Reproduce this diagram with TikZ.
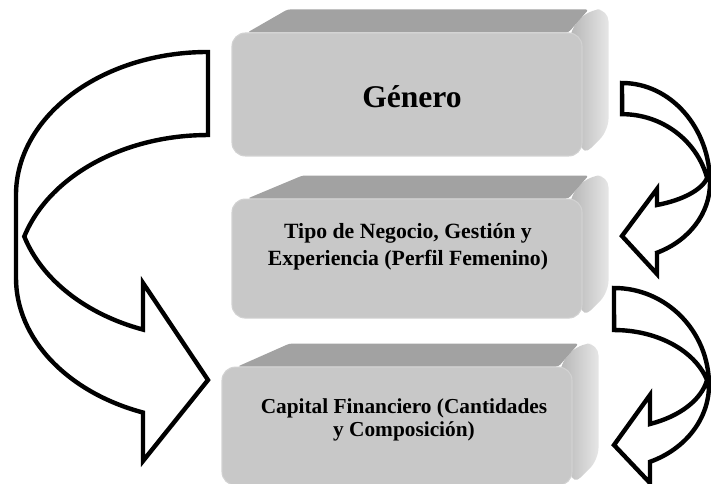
\documentclass[tikz,border=0pt]{standalone}
\usepackage{fontspec}
\setmainfont{Liberation Serif}
\usetikzlibrary{positioning, calc, backgrounds}
\definecolor{facegray}{HTML}{C8C8C8}
\definecolor{topgray}{HTML}{A2A2A2}
\definecolor{sidegray}{HTML}{E6E6E6}
\definecolor{sidedark}{HTML}{B4B4B4}
\definecolor{rimgray}{HTML}{D2D2D2}

\begin{document}
\begin{tikzpicture}[x=0.75pt, y=0.75pt,
    stage/.style={rectangle, rounded corners=10pt, fill=facegray, draw=rimgray, line width=0.8pt,
      minimum width=262.5pt, inner sep=0pt},
    caption/.style={align=center, inner sep=0pt},
    bigarrow/.style={draw=black, fill=white, line width=3.3pt}]

    \useasboundingbox (0,0) rectangle (711,484);

    % front faces
    \node (b1) [stage, minimum height=92.25pt] at (407,389.5) {};
    \node (b2) [stage, minimum height=89.25pt, below=31.5pt of b1] {};
    \node (b3) [stage, minimum height=88.5pt, below=36pt of b2, xshift=-7.5pt] {};

    % top and side faces behind
    \begin{scope}[on background layer]
      \foreach \bx/\sk in {b1/56, b2/71, b3/68} {
        \shade [left color=sidedark, right color=sidegray, rounded corners=9pt]
          ($(\bx.north east)+(-14,0)$) -- ($(\bx.north east)+(6,23)$) -- ($(\bx.north east)+(26,23)$)
          -- ($(\bx.south east)+(26,26)$) -- (\bx.south east) -- cycle;
        \fill [topgray, rounded corners=2pt]
          ($(\bx.north west)+(16,0)$) -- ($(\bx.north west)+(\sk,23)$) -- ($(\bx.north east)+(6,23)$)
          -- ($(\bx.north east)+(-14,0)$) -- cycle;
      }
    \end{scope}

    % captions
    \node (t1) [caption, font=\fontsize{23.7}{28}\selectfont\bfseries] at ($(b1)+(5,-2.5)$) {Género};
    \node (t2) [caption, font=\fontsize{16.3}{20.3}\selectfont\bfseries] at ($(b2)+(1,12)$)
      {Tipo de Negocio, Gestión y\\Experiencia (Perfil Femenino)};
    \node (t3) [caption, font=\fontsize{16}{17}\selectfont\bfseries] at ($(b3)+(7,6)$)
      {Capital Financiero (Cantidades\\y Composición)};

    % left curved arrow
    \draw [bigarrow] (208,432)
      arc [start angle=90, end angle=180, x radius=192, y radius=143]
      -- (16,206)
      arc [start angle=180, end angle=250.21, x radius=192, y radius=143]
      -- (143,23) -- (208,104) -- (143,201) -- (143,154.4)
      arc [start angle=250.21, end angle=196.87, x radius=192, y radius=143]
      arc [start angle=163.13, end angle=90, x radius=192, y radius=143]
      -- cycle;

    % right curved arrows
    \draw [bigarrow] (622,401)
      arc [start angle=90, end angle=0, x radius=88, y radius=100]
      arc [start angle=0, end angle=-66.6, x radius=88, y radius=76]
      -- (657,210) -- (622,248) -- (657,295) -- (657,279)
      arc [start angle=-66.4, end angle=-12.2, x radius=87, y radius=38]
      arc [start angle=14.8, end angle=90, x radius=88, y radius=86]
      -- cycle;
    \draw [bigarrow] (614,196)
      arc [start angle=90, end angle=0, x radius=95, y radius=97]
      arc [start angle=0, end angle=-67.7, x radius=95, y radius=83]
      -- (650,1) -- (614,39) -- (650,89) -- (650,60)
      arc [start angle=-67.6, end angle=-9.9, x radius=94.4, y radius=58.4]
      arc [start angle=16.6, end angle=90, x radius=97, y radius=70]
      -- cycle;
\end{tikzpicture}
\end{document}
